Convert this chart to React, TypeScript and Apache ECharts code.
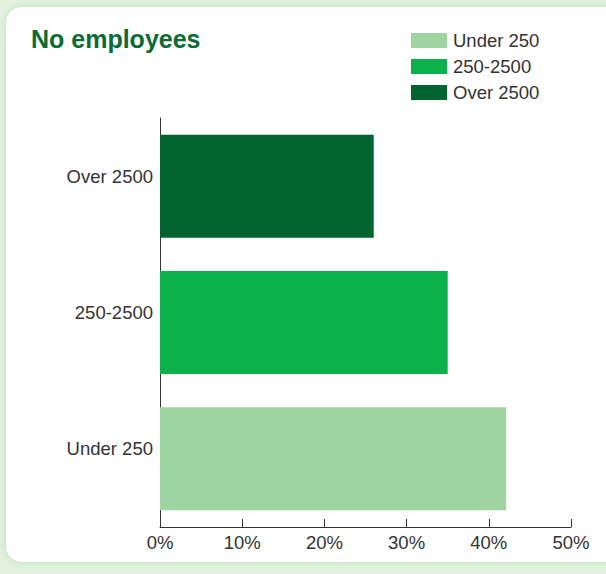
import React, { useEffect, useRef } from "react";
import * as echarts from "echarts";

const categories = ["Under 250", "250-2500", "Over 2500"];
const seriesNames = ["Under 250", "250-2500", "Over 2500"];
const seriesValues = [42.1, 35.0, 26.0];
const seriesColors = ["#9fd3a0", "#0db14b", "#006430"];
const xTicks = [0, 10, 20, 30, 40, 50];

const FONT = "'Liberation Sans', Arial, sans-serif";

export default function App() {
  const ref = useRef<HTMLDivElement>(null);
  useEffect(() => {
    if (!ref.current) return;
    const chart = echarts.init(ref.current, undefined, { renderer: "svg" });
    const series = seriesNames.map((name, i) => ({
      name,
      type: "bar",
      stack: "total",
      barWidth: 103,
      itemStyle: { color: seriesColors[i] },
      data: categories.map((c, j) => (j === i ? seriesValues[i] : null)),
    }));
    chart.setOption({
      animation: false,
      backgroundColor: "#e3f2df",
      textStyle: { fontFamily: FONT },
      graphic: [
        {
          type: "rect",
          z: -10,
          shape: { x: 6, y: 7, width: 640, height: 555, r: 16 },
          style: { fill: "#ffffff", shadowBlur: 8, shadowColor: "rgba(120,190,120,0.35)" },
          silent: true,
        },
      ],
      title: {
        text: "No employees",
        left: 26,
        top: 21,
        textStyle: { fontFamily: FONT, fontSize: 25, fontWeight: "bold", color: "#0a6b35" },
      },
      legend: {
        orient: "vertical",
        left: 406,
        top: 26,
        itemWidth: 36,
        itemHeight: 15,
        itemGap: 7,
        icon: "rect",
        data: seriesNames,
        textStyle: { fontFamily: FONT, fontSize: 18.5, color: "#333333", padding: [0, 0, 0, 1] },
      },
      grid: { left: 160, right: 35, top: 118, bottom: 47, containLabel: false },
      xAxis: {
        type: "value",
        min: xTicks[0],
        max: xTicks[xTicks.length - 1],
        interval: 10,
        axisLine: { show: true, lineStyle: { color: "#333333", width: 1 } },
        axisTick: { show: true, inside: true, length: 8, lineStyle: { color: "#333333" } },
        axisLabel: {
          formatter: "{value}%",
          color: "#333333",
          fontSize: 18.5,
          fontFamily: FONT,
          margin: 6,
        },
        splitLine: { show: false },
      },
      yAxis: {
        type: "category",
        data: categories,
        axisLine: { show: true, lineStyle: { color: "#333333", width: 1 } },
        axisTick: { show: false },
        axisLabel: {
          color: "#333333",
          fontSize: 18.5,
          fontFamily: FONT,
          margin: 7,
          verticalAlign: "bottom",
          lineHeight: 20,
        },
      },
      series,
    });
    return () => chart.dispose();
  }, []);
  return (
    <div style={{ position: "fixed", left: 0, top: 0, width: 606, height: 574 }}>
      <div ref={ref} style={{ width: 606, height: 574 }} />
    </div>
  );
}
